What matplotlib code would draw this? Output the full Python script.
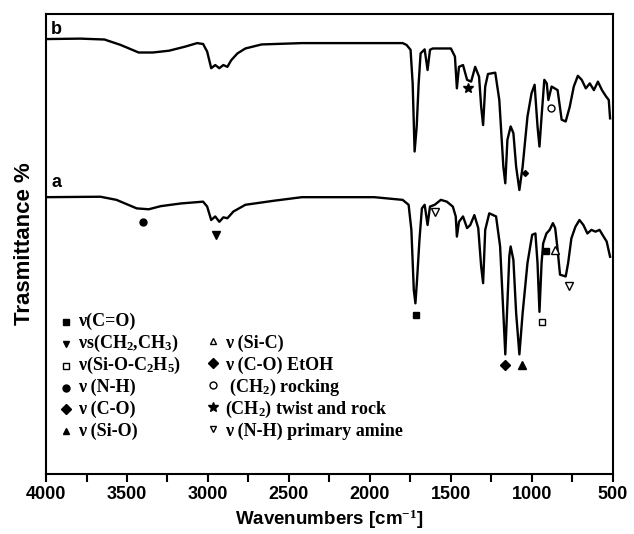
import matplotlib
matplotlib.use("Agg")
import matplotlib.pyplot as plt
from matplotlib.ticker import MultipleLocator

# ---- data ----
wn_b = [4000, 3789, 3639, 3540, 3428, 3341, 3241, 3142, 3067, 3030, 3005, 2980, 2955, 2930, 2905,
        2880, 2856, 2818, 2769, 2669, 2420, 1798, 1774, 1749, 1736, 1724, 1711, 1699, 1687, 1662,
        1644, 1629, 1612, 1500, 1475, 1463, 1450, 1425, 1400, 1375, 1350, 1326, 1313, 1301, 1288,
        1271, 1226, 1201, 1176, 1164, 1151, 1131, 1114, 1097, 1077, 1057, 1027, 1002, 983, 965,
        953, 940, 923, 908, 898, 878, 841, 816, 791, 766, 741, 716, 692, 667, 642, 617, 592, 567,
        542, 525, 517]
t_b = [94.4, 94.5, 94.3, 93.1, 91.4, 91.4, 91.8, 92.7, 93.5, 93.3, 91.6, 87.9, 88.6, 87.9, 88.6,
       88.2, 89.7, 91.2, 92.3, 93.2, 93.5, 93.5, 93.1, 92.0, 84.5, 69.3, 74.9, 84.5, 91.2, 92.1,
       87.5, 92.0, 92.3, 92.3, 90.5, 83.4, 88.2, 88.6, 85.3, 84.9, 88.2, 86.0, 79.3, 75.2, 83.8,
       86.6, 86.9, 80.8, 65.9, 62.2, 71.9, 74.9, 73.4, 65.9, 60.7, 65.9, 77.1, 82.3, 84.2, 74.9,
       70.4, 77.1, 85.3, 84.5, 80.8, 83.8, 83.0, 76.4, 76.0, 79.3, 83.8, 86.2, 85.3, 83.4, 84.5,
       83.0, 84.9, 83.0, 81.6, 80.8, 76.7]

wn_a = [4000, 3664, 3565, 3440, 3366, 3291, 3167, 3030, 3005, 2980, 2955, 2930, 2905, 2880, 2843,
        2769, 2594, 2420, 1973, 1798, 1761, 1744, 1729, 1719, 1709, 1694, 1679, 1662, 1644, 1629,
        1600, 1562, 1525, 1488, 1470, 1463, 1450, 1425, 1400, 1380, 1355, 1331, 1313, 1301, 1288,
        1263, 1221, 1196, 1176, 1164, 1139, 1131, 1114, 1097, 1077, 1057, 1027, 998, 978, 965,
        953, 940, 930, 910, 890, 870, 856, 843, 826, 791, 776, 756, 731, 706, 682, 657, 632, 607,
        582, 557, 538, 517]
t_a = [59.1, 59.2, 58.5, 56.6, 56.4, 57.1, 57.7, 58.1, 57.0, 54.0, 54.8, 53.6, 54.6, 54.4, 55.9,
       57.4, 58.3, 59.1, 59.1, 58.5, 57.4, 51.8, 38.4, 35.4, 40.6, 49.6, 56.6, 57.4, 52.9, 57.0,
       57.4, 58.5, 58.1, 57.0, 54.8, 50.3, 53.6, 54.8, 52.2, 52.9, 55.1, 52.2, 43.6, 39.9, 51.8,
       55.5, 54.8, 48.1, 33.2, 24.0, 46.0, 48.1, 45.1, 33.2, 24.0, 33.2, 44.4, 50.7, 51.0, 44.4,
       33.5, 44.4, 48.8, 51.0, 51.8, 53.3, 52.2, 48.1, 41.8, 41.4, 44.4, 49.9, 52.5, 54.0, 52.9,
       51.0, 51.8, 51.4, 51.8, 50.3, 49.2, 45.8]

# band markers on the spectra
mk_wn = [3403, 2950, 1600, 1716, 940, 858, 771, 1164, 1060, 912, 1393, 883, 1040]
mk_t = [53.5, 50.7, 55.7, 32.8, 31.3, 47.3, 39.3, 21.6, 21.6, 47.0, 83.4, 79.0, 64.6]
mk_sym = ["o", "v", "v", "s", "s", "^", "v", "D", "^", "s", "*", "o", "D"]
mk_fill = [True, True, False, True, False, False, False, True, True, True, True, False, True]
mk_size = [5, 6, 6, 5, 5, 6, 6, 5, 6, 5, 7, 5, 3]

leg1 = ["ν(C=O)", "νs(CH$_2$,CH$_3$)", "ν(Si-O-C$_2$H$_5$)", "ν (N-H)", "ν (C-O)", "ν (Si-O)"]
leg1_sym = ["s", "v", "s", "o", "D", "^"]
leg1_fill = [True, True, False, True, True, True]
leg2 = ["ν (Si-C)", "ν (C-O) EtOH", " (CH$_2$) rocking", "(CH$_2$) twist and rock", "ν (N-H) primary amine"]
leg2_sym = ["^", "D", "o", "*", "v"]
leg2_fill = [False, True, False, True, False]
leg_rows_t = [31.3, 26.4, 21.5, 16.6, 11.7, 6.8]

plt.rcParams["mathtext.fontset"] = "custom"
plt.rcParams["mathtext.rm"] = "Liberation Serif:bold"
plt.rcParams["mathtext.it"] = "Liberation Serif:bold"
plt.rcParams["mathtext.bf"] = "Liberation Serif:bold"
plt.rcParams["mathtext.default"] = "rm"

fig = plt.figure(figsize=(6.34, 5.34), dpi=100)
ax = fig.add_axes([0.0726, 0.1124, 0.894, 0.8614])

ax.plot(wn_b, t_b, color="black", lw=1.7)
ax.plot(wn_a, t_a, color="black", lw=1.7)

for w, t, s, f, ms in zip(mk_wn, mk_t, mk_sym, mk_fill, mk_size):
    ax.plot([w], [t], marker=s, ms=ms, color="black",
            mfc="black" if f else "white", mec="black", mew=1.0, ls="none")

ax.text(3968, 96.5, "b", fontsize=13, fontweight="bold", family="Liberation Sans", va="center")
ax.text(3968, 62.3, "a", fontsize=13, fontweight="bold", family="Liberation Sans", va="center")

# in-plot legend
for lbl, s, f, t in zip(leg1, leg1_sym, leg1_fill, leg_rows_t):
    ax.plot([3876], [t], marker=s, ms=5, color="black", mfc="black" if f else "white",
            mec="black", mew=1.0, ls="none")
    ax.text(3801, t, lbl, fontsize=13, fontweight="bold", family="Liberation Serif", va="center")
for lbl, s, f, t in zip(leg2, leg2_sym, leg2_fill, leg_rows_t[1:]):
    ax.plot([2968], [t + 0.6], marker=s, ms=5 if s != "*" else 7, color="black",
            mfc="black" if f else "white", mec="black", mew=1.0, ls="none")
    ax.text(2893, t, lbl, fontsize=13, fontweight="bold", family="Liberation Serif", va="center")

ax.set_xlim(4000, 500)
ax.set_ylim(-2.7, 100)
ax.xaxis.set_major_locator(MultipleLocator(500))
ax.xaxis.set_minor_locator(MultipleLocator(250))
ax.tick_params(axis="x", which="major", direction="out", length=6, width=1.5, labelsize=13, pad=3)
ax.tick_params(axis="x", which="minor", direction="out", length=6, width=1.5)
ax.set_yticks([])
for lab in ax.get_xticklabels():
    lab.set_fontweight("bold")
    lab.set_family("Liberation Sans")
for sp in ax.spines.values():
    sp.set_linewidth(1.5)

ax.set_xlabel("Wavenumbers [cm$^{-1}$]", fontsize=13.5, fontweight="bold", family="Liberation Sans", labelpad=3)
ax.set_ylabel("Trasmittance %", fontsize=16, fontweight="bold", family="Liberation Sans", labelpad=8)

fig.savefig("out.png", dpi=100)
